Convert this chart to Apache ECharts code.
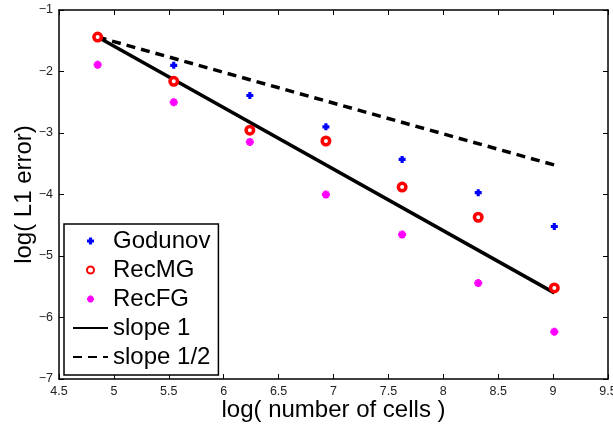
<!DOCTYPE html>
<html>
<head>
<meta charset="utf-8">
<script src="https://cdn.jsdelivr.net/npm/echarts@6/dist/echarts.min.js"></script>
<style>html,body{margin:0;padding:0;background:#fff}#c{width:613px;height:427px}</style>
</head>
<body>
<div id="c"></div>
<script>
// log(number of cells)
const xLog = [4.852, 5.545, 6.238, 6.931, 7.625, 8.318, 9.011];
const godunov = [-1.45, -1.90, -2.39, -2.90, -3.43, -3.97, -4.52];
const recMG = [-1.44, -2.16, -2.955, -3.13, -3.88, -4.37, -5.52];
const recFG = [-1.89, -2.50, -3.145, -4.00, -4.65, -5.44, -6.23];
const refX = [4.852, 9.011];
const slope1 = [-1.44, -5.60];
const slopeHalf = [-1.44, -3.52];
const seriesNames = ['Godunov', 'RecMG', 'RecFG', 'slope 1', 'slope 1/2'];
const xTitle = 'log( number of cells )';
const yTitle = 'log( L1 error)';

const pair = (xs, ys) => xs.map((x, i) => [x, ys[i]]);
const FONT = '"Liberation Sans", Arial, Helvetica, sans-serif';
const minusFmt = v => String(v).replace('-', '\u2212');

const plusPath = 'path://M2.2,0H5.8V2.2H8V5.8H5.8V8H2.2V5.8H0V2.2H2.2Z';
const starPath = 'path://M2.5,0H5.5V2.5H8V5.5H5.5V8H2.5V5.5H0V2.5H2.5Z M0.6,1.7L1.7,0.6L4,2.9L6.3,0.6L7.4,1.7L5.1,4L7.4,6.3L6.3,7.4L4,5.1L1.7,7.4L0.6,6.3L2.9,4Z';

const axisCommon = {
  axisLine: { show: true, onZero: false, lineStyle: { color: '#000', width: 1.5 } },
  axisTick: { show: true, inside: true, length: 5, lineStyle: { color: '#000', width: 1 } },
  splitLine: { show: false }
};

const hiddenSymbol = { color: 'rgba(0,0,0,0)', borderWidth: 0, opacity: 0 };

const chart = echarts.init(document.getElementById('c'), null, { renderer: 'canvas' });
chart.setOption({
  backgroundColor: '#fff',
  animation: false,
  grid: { left: 59, right: 5, top: 10, bottom: 48, containLabel: false, outerBoundsMode: 'none' },
  xAxis: [
    Object.assign({
      type: 'value', position: 'bottom', min: 4.5, max: 9.5, interval: 0.5,
      name: xTitle, nameLocation: 'middle', nameGap: 19, nameMoveOverlap: false,
      nameTextStyle: { fontFamily: FONT, fontSize: 24, color: '#000' },
      axisLabel: { fontFamily: FONT, fontSize: 12.5, color: '#222', margin: 6, formatter: minusFmt }
    }, axisCommon),
    Object.assign({
      type: 'value', position: 'top', min: 4.5, max: 9.5, interval: 0.5,
      axisLabel: { show: false }
    }, axisCommon)
  ],
  yAxis: [
    Object.assign({
      type: 'value', position: 'left', min: -7, max: -1, interval: 1,
      name: yTitle, nameLocation: 'middle', nameGap: 23, nameMoveOverlap: false,
      nameTextStyle: { fontFamily: FONT, fontSize: 24, color: '#000' },
      axisLabel: { fontFamily: FONT, fontSize: 12.5, color: '#222', margin: 6, formatter: minusFmt }
    }, axisCommon),
    Object.assign({
      type: 'value', position: 'right', min: -7, max: -1, interval: 1,
      axisLabel: { show: false }
    }, axisCommon)
  ],
  legend: {
    data: [
      { name: seriesNames[0] },
      { name: seriesNames[1] },
      { name: seriesNames[2] },
      { name: seriesNames[3], itemStyle: hiddenSymbol },
      { name: seriesNames[4], itemStyle: hiddenSymbol }
    ],
    orient: 'vertical', left: 64, top: 224,
    padding: [5, 8, 6, 8],
    itemWidth: 35, itemHeight: 7, itemGap: 5,
    borderColor: '#000', borderWidth: 1.5, backgroundColor: '#fff',
    textStyle: { fontFamily: FONT, fontSize: 24, color: '#000', lineHeight: 24 }
  },
  series: [
    { name: seriesNames[0], type: 'scatter', data: pair(xLog, godunov),
      symbol: plusPath, symbolSize: 7, symbolKeepAspect: true,
      itemStyle: { color: '#0000ff', opacity: 1 }, z: 2 },
    { name: seriesNames[1], type: 'scatter', data: pair(xLog, recMG),
      symbol: 'circle', symbolSize: 7.5,
      itemStyle: { color: '#fff', borderColor: '#ff0000', borderWidth: 3.5, opacity: 1 }, z: 3 },
    { name: seriesNames[2], type: 'scatter', data: pair(xLog, recFG),
      symbol: starPath, symbolSize: 8, symbolKeepAspect: true,
      itemStyle: { color: '#ff00ff', opacity: 1 }, z: 2 },
    { name: seriesNames[3], type: 'line', data: pair(refX, slope1),
      symbol: 'none', lineStyle: { color: '#000', width: 3.5, type: 'solid' },
      itemStyle: { color: '#000' }, z: 2 },
    { name: seriesNames[4], type: 'line', data: pair(refX, slopeHalf),
      symbol: 'none', lineStyle: { color: '#000', width: 3.5, type: [9, 6] },
      itemStyle: { color: '#000' }, z: 2 }
  ]
});
</script>
</body>
</html>
